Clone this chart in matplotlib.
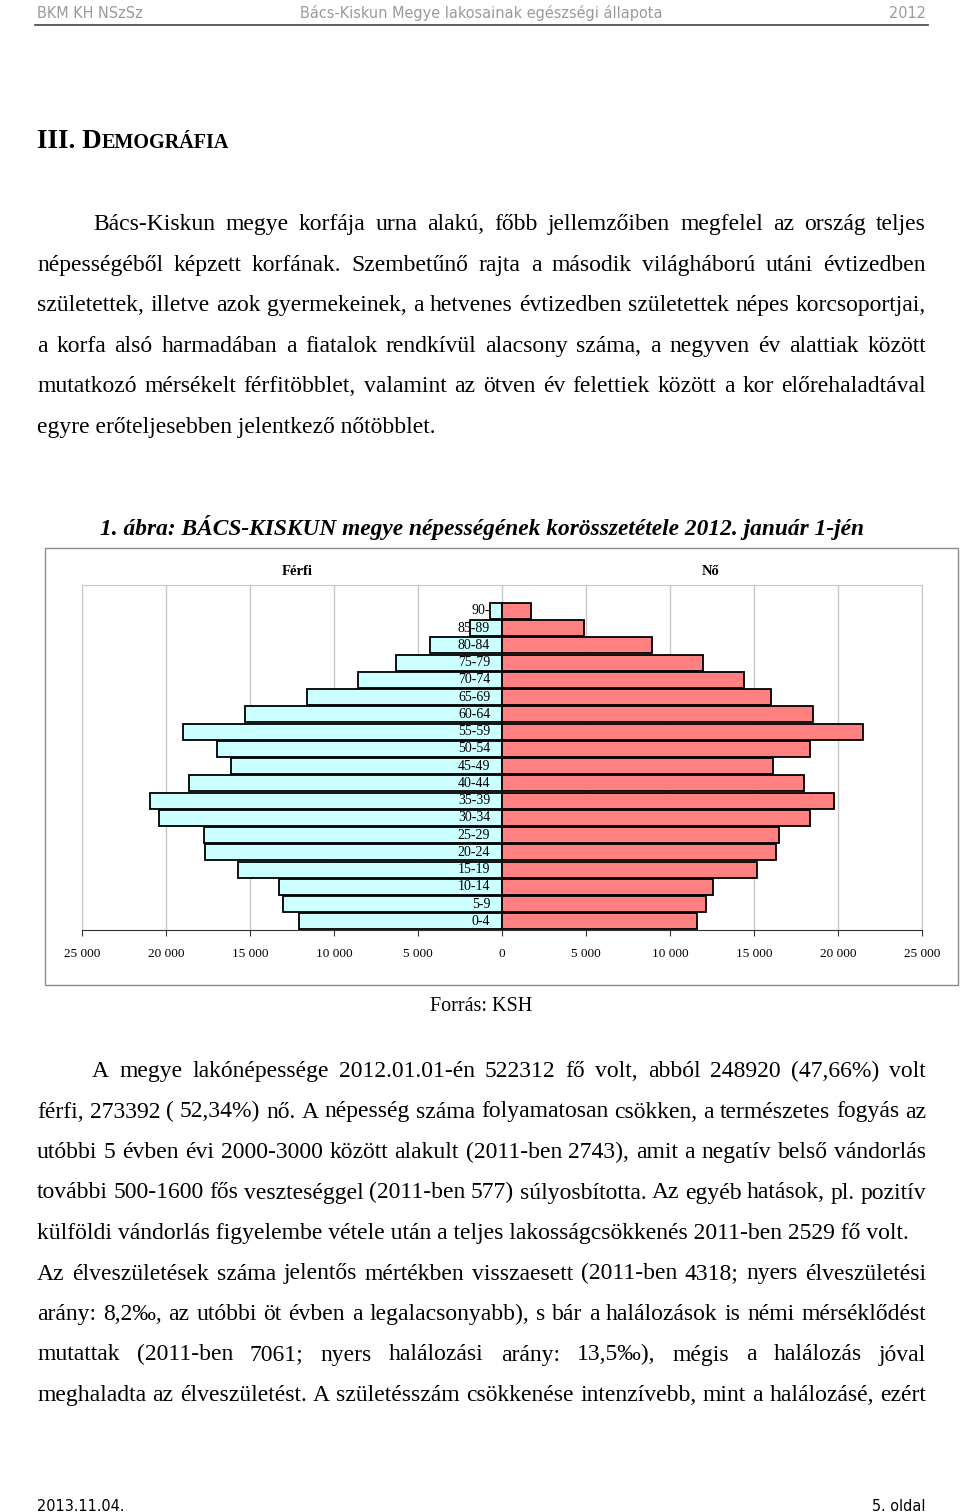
import numpy as np
import matplotlib
matplotlib.use('Agg')
import matplotlib.pyplot as plt
from matplotlib.patches import Rectangle
from matplotlib.ticker import FuncFormatter

W, H = 960, 1512

age_groups = ['0-4', '5-9', '10-14', '15-19', '20-24', '25-29', '30-34', '35-39', '40-44', '45-49',
              '50-54', '55-59', '60-64', '65-69', '70-74', '75-79', '80-84', '85-89', '90-']
male = [12060, 13020, 13250, 15710, 17660, 17740, 20440, 20930, 18610, 16150,
        16950, 18970, 15280, 11600, 8550, 6290, 4270, 1920, 700]
female = [11610, 12120, 12580, 15180, 16330, 16510, 18350, 19740, 18000, 16150,
          18350, 21490, 18510, 15990, 14410, 11970, 8930, 4900, 1750]
x_ticks = [-25000, -20000, -15000, -10000, -5000, 0, 5000, 10000, 15000, 20000, 25000]

header = ['BKM KH NSzSz', 'Bács-Kiskun Megye lakosainak egészségi állapota', '2012']
footer = ['2013.11.04.', '5. oldal']
caption = '1. ábra: BÁCS-KISKUN megye népességének korösszetétele 2012. január 1-jén'
source = 'Forrás: KSH'

para1 = [
    'Bács-Kiskun megye korfája urna alakú, főbb jellemzőiben megfelel az ország teljes',
    'népességéből képzett korfának. Szembetűnő rajta a második világháború utáni évtizedben',
    'születettek, illetve azok gyermekeinek, a hetvenes évtizedben születettek népes korcsoportjai,',
    'a korfa alsó harmadában a fiatalok rendkívül alacsony száma, a negyven év alattiak között',
    'mutatkozó mérsékelt férfitöbblet, valamint az ötven év felettiek között a kor előrehaladtával',
    'egyre erőteljesebben jelentkező nőtöbblet.',
]
para2 = [
    'A megye lakónépessége 2012.01.01-én 522312 fő volt, abból 248920 (47,66%) volt',
    'férfi, 273392 ( 52,34%) nő. A népesség száma folyamatosan csökken, a természetes fogyás az',
    'utóbbi 5 évben évi 2000-3000 között alakult (2011-ben 2743), amit a negatív belső vándorlás',
    'további 500-1600 fős veszteséggel (2011-ben 577) súlyosbította. Az egyéb hatások, pl. pozitív',
    'külföldi vándorlás figyelembe vétele után a teljes lakosságcsökkenés 2011-ben 2529 fő volt.',
    'Az élveszületések száma jelentős mértékben visszaesett (2011-ben 4318; nyers élveszületési',
    'arány: 8,2‰, az utóbbi öt évben a legalacsonyabb), s bár a halálozások is némi mérséklődést',
    'mutattak (2011-ben 7061; nyers halálozási arány: 13,5‰), mégis a halálozás jóval',
    'meghaladta az élveszületést. A születésszám csökkenése intenzívebb, mint a halálozásé, ezért',
]

SERIF = ['Liberation Serif', 'DejaVu Serif']
NARROW = ['Liberation Sans Narrow', 'DejaVu Sans']


def px(x, y):
    return x / W, 1 - y / H


def put(fig, x, y, s, **kw):
    return fig.text(*px(x, y), s, **kw)


def justify_line(fig, renderer, line, x0, x1, y, size, justify=True):
    if not justify:
        put(fig, x0, y, line, fontsize=size, family=SERIF, va='baseline')
        return
    words = line.split(' ')
    objs = [put(fig, 0, y, w, fontsize=size, family=SERIF, va='baseline') for w in words]
    widths = [o.get_window_extent(renderer).width for o in objs]
    gap = (x1 - x0 - sum(widths)) / (len(words) - 1)
    x = x0
    for o, w in zip(objs, widths):
        o.set_position(px(x, y))
        x += w + gap


fig = plt.figure(figsize=(W / 100, H / 100), dpi=100)
fig.patch.set_facecolor('white')
renderer = fig.canvas.get_renderer()

# header / footer
hdr = dict(fontsize=11.6, family=NARROW, stretch='condensed', color='#9a9a9a', va='baseline')
put(fig, 37, 18, header[0], **hdr)
put(fig, 481, 18, header[1], ha='center', **hdr)
put(fig, 926, 18, header[2], ha='right', **hdr)
fig.add_artist(plt.Line2D([35 / W, 928 / W], [1 - 25 / H, 1 - 25 / H], color='#444444', lw=1.2))
ftr = dict(fontsize=11.6, family=NARROW, stretch='condensed', va='baseline')
put(fig, 37, 1511, footer[0], **ftr)
put(fig, 926, 1511, footer[1], ha='right', **ftr)

# section title
t = put(fig, 37, 148, 'III. D', fontsize=19.5, family=SERIF, weight='bold', va='baseline')
bb = t.get_window_extent(renderer)
put(fig, 37 + bb.width, 148, 'EMOGRÁFIA', fontsize=14.5, family=SERIF, weight='bold', va='baseline')

# paragraphs
body = 17
for i, line in enumerate(para1):
    x0 = 93 if i == 0 else 37
    justify_line(fig, renderer, line, x0, 926, 230 + 40.6 * i, body, justify=i < len(para1) - 1)
for i, line in enumerate(para2):
    x0 = 92 if i == 0 else 37
    justify_line(fig, renderer, line, x0, 926, 1077 + 40.5 * i, body, justify=i != 4)

put(fig, 482, 535, caption, fontsize=16.8, family=SERIF, weight='bold', style='italic', va='baseline', ha='center')
put(fig, 481, 1011, source, fontsize=14.5, family=SERIF, va='baseline', ha='center')

# chart frame
fig.add_artist(Rectangle(px(45, 985), 913 / W, 437 / H, transform=fig.transFigure,
                         fill=False, edgecolor='#8c8c8c', lw=1.0))
put(fig, 297, 575, 'Férfi', fontsize=10.5, family=SERIF, weight='bold', va='baseline', ha='center')
put(fig, 711, 575, 'Nő', fontsize=10.5, family=SERIF, weight='bold', va='baseline', ha='center')

ax = fig.add_axes([82 / W, 1 - 930 / H, 840 / W, 345 / H])
y = np.arange(len(age_groups))
ax.barh(y, -np.array(male), height=0.92, color='#CCFFFF', edgecolor='black', linewidth=1.3, zorder=3)
ax.barh(y, female, height=0.92, color='#FF8080', edgecolor='black', linewidth=1.3, zorder=3)
ax.set_xlim(-25000, 25000)
ax.set_ylim(-0.5, len(age_groups) + 0.5)
ax.set_xticks(x_ticks)
ax.xaxis.set_major_formatter(FuncFormatter(lambda v, p: f'{abs(int(v)):,}'.replace(',', ' ')))
ax.set_yticks([])
ax.grid(axis='x', color='#c8c8c8', lw=1.0, zorder=0)
for s in ['top', 'left', 'right']:
    ax.spines[s].set_color('#c8c8c8')
ax.spines['bottom'].set_color('#333333')
ax.tick_params(axis='x', length=4, width=0.8, color='#333333', labelsize=9.5, pad=9)
for lab in ax.get_xticklabels():
    lab.set_family(SERIF)
for yi, lab in zip(y, age_groups):
    ax.text(-700, yi, lab, ha='right', va='center', fontsize=10, family=SERIF, zorder=4)

fig.savefig('out.png', dpi=100)
